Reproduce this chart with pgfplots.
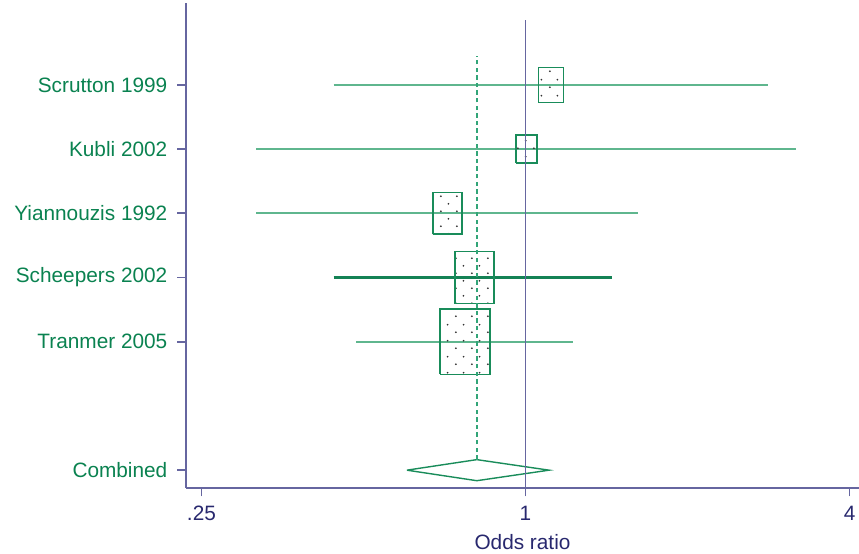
\documentclass[border=0pt]{standalone}
\usepackage{pgfplots}
\pgfplotsset{compat=1.18}
\usepackage{fontspec}
\setmainfont{Liberation Sans}
\usetikzlibrary{patterns}
\definecolor{axisc}{RGB}{102,102,160}
\definecolor{navytext}{RGB}{40,40,110}
\definecolor{txtgreen}{RGB}{10,130,80}
\definecolor{cilight}{RGB}{95,182,142}
\definecolor{cidark}{RGB}{20,130,85}
\definecolor{boxgreen}{RGB}{25,140,90}
\definecolor{dashgreen}{RGB}{50,165,120}
\pgfdeclarepatternformonly{sdots}{\pgfqpoint{0pt}{0pt}}{\pgfqpoint{7.8pt}{7.7pt}}{\pgfqpoint{7.8pt}{7.7pt}}{%
  \pgfpathcircle{\pgfqpoint{1.95pt}{1.925pt}}{0.5pt}%
  \pgfpathcircle{\pgfqpoint{5.85pt}{5.775pt}}{0.5pt}%
  \pgfusepath{fill}}
\begin{document}
\begin{tikzpicture}
\begin{axis}[
  at={(0,0)}, anchor=south west,
  scale only axis, width=336.5pt, height=242.2pt,
  xmode=log, log basis x=2,
  xmin=0.2340, xmax=4.165,
  ymin=-0.273, ymax=7.27,
  axis x line*=bottom, axis y line*=left,
  axis line style={draw=axisc, line width=0.95pt, -},
  tick style={draw=axisc, line width=0.9pt},
  tick align=outside, major tick length=4.3pt,
  xtick={0.25,1,4}, xticklabels={.25,1,4},
  ytick={0,2,3,4,5,6},
  yticklabels={Combined,Tranmer 2005,Scheepers 2002,Yiannouzis 1992,Kubli 2002,Scrutton 1999},
  x tick label style={font=\fontsize{10.4pt}{12pt}\selectfont, text=navytext, yshift=-1.5pt},
  y tick label style={font=\fontsize{10.4pt}{12pt}\selectfont, text=txtgreen, xshift=-1.5pt},
  xlabel={Odds ratio},
  xlabel style={font=\fontsize{10.4pt}{12pt}\selectfont, text=navytext, yshift=0pt},
  clip=false,
]
% confidence intervals
\addplot[cilight, line width=1.1pt] coordinates {(0.440,6) (2.826,6)};
\addplot[cilight, line width=1.1pt] coordinates {(0.316,5) (3.177,5)};
\addplot[cilight, line width=1.1pt] coordinates {(0.316,4) (1.621,4)};
\addplot[cidark, line width=1.1pt] coordinates {(0.440,3) (1.446,3)};
\addplot[cilight, line width=1.1pt] coordinates {(0.485,2) (1.224,2)};
% weight boxes
\addplot[draw=boxgreen, line width=0.75pt, pattern=sdots, pattern color=black!80] coordinates {(1.057,5.727) (1.176,5.727) (1.176,6.273) (1.057,6.273) (1.057,5.727)};
\addplot[draw=boxgreen, line width=0.75pt, pattern=sdots, pattern color=black!80] coordinates {(0.960,4.780) (1.0495,4.780) (1.0495,5.220) (0.960,5.220) (0.960,4.780)};
\addplot[draw=boxgreen, line width=0.75pt, pattern=sdots, pattern color=black!80] coordinates {(0.673,3.675) (0.762,3.675) (0.762,4.325) (0.673,4.325) (0.673,3.675)};
\addplot[draw=boxgreen, line width=0.75pt, pattern=sdots, pattern color=black!80] coordinates {(0.740,2.592) (0.874,2.592) (0.874,3.408) (0.740,3.408) (0.740,2.592)};
\addplot[draw=boxgreen, line width=0.75pt, pattern=sdots, pattern color=black!80] coordinates {(0.694,1.491) (0.860,1.491) (0.860,2.509) (0.694,2.509) (0.694,1.491)};
% combined diamond
\addplot[draw=boxgreen, line width=0.7pt] coordinates {(0.602,0) (0.812,0.164) (1.106,0) (0.812,-0.164) (0.602,0)};
% pooled estimate (dashed)
\addplot[dashgreen, line width=0.8pt, dash pattern=on 2.2pt off 1.6pt] coordinates {(0.812,0.164) (0.812,6.45)};
% null line
\addplot[axisc, line width=0.95pt] coordinates {(1,-0.273) (1,7.01)};
\end{axis}
\pgfresetboundingbox
\path[use as bounding box] (-93pt,-32.65pt) rectangle (336.5pt,243.85pt);
\end{tikzpicture}
\end{document}
